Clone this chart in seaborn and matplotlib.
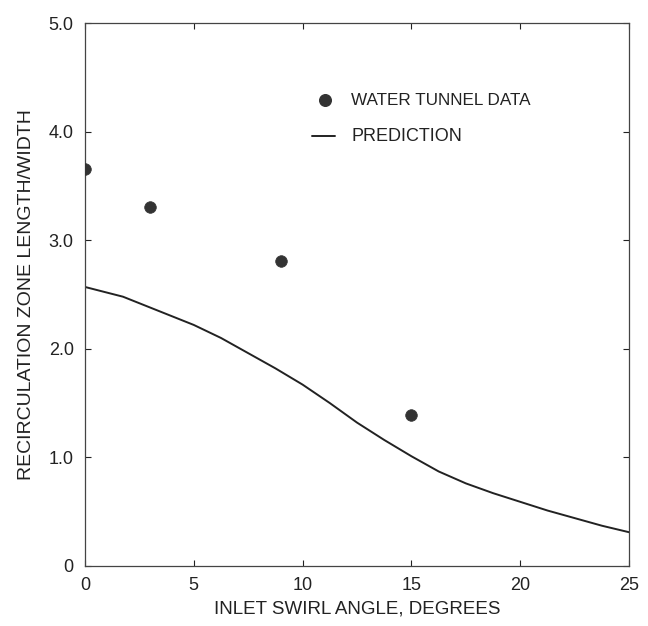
import matplotlib
matplotlib.use("Agg")
import matplotlib.pyplot as plt
import seaborn as sns
import numpy as np
import pandas as pd

sns.set_style("ticks")
plt.rcParams['font.family'] = ['Liberation Sans', 'DejaVu Sans']

# Data
tunnel_angle = [0, 3, 9, 15]
tunnel_ratio = [3.66, 3.31, 2.81, 1.39]

pred_angle = [0, 1.75, 3.5, 5, 6.25, 7.5, 8.75, 10, 11.25, 12.5, 13.75, 15,
              16.25, 17.5, 18.75, 20, 21.25, 22.5, 23.75, 25]
pred_ratio = [2.57, 2.48, 2.34, 2.22, 2.10, 1.96, 1.82, 1.67, 1.50, 1.32, 1.16, 1.01,
              0.87, 0.76, 0.67, 0.59, 0.51, 0.44, 0.37, 0.31]

x_ticks = [0, 5, 10, 15, 20, 25]
y_ticks = [0, 1, 2, 3, 4, 5]
y_ticklabels = ['0', '1.0', '2.0', '3.0', '4.0', '5.0']

df_pts = pd.DataFrame({'angle': tunnel_angle, 'ratio': tunnel_ratio})
df_pred = pd.DataFrame({'angle': pred_angle, 'ratio': pred_ratio})

fig = plt.figure(figsize=(6.48, 6.26), dpi=100)
ax = fig.add_axes([0.131, 0.096, 0.84, 0.867])

ink = '#222222'
sns.lineplot(x='angle', y='ratio', data=df_pred, ax=ax, color=ink, linewidth=1.4)
sns.scatterplot(x='angle', y='ratio', data=df_pts, ax=ax, color='#333333',
                s=70, edgecolor='#333333', linewidth=0.5, zorder=3)

ax.set_xlim(0, 25)
ax.set_ylim(0, 5)
ax.set_xticks(x_ticks)
ax.set_yticks(y_ticks)
ax.set_yticklabels(y_ticklabels)
ax.tick_params(direction='in', length=4, width=0.8, colors=ink, labelsize=13,
               top=True, right=True, pad=8)
for s in ax.spines.values():
    s.set_visible(True)
    s.set_linewidth(0.9)
    s.set_color('#444444')

ax.set_xlabel('INLET SWIRL ANGLE, DEGREES', fontsize=13.5, color=ink, labelpad=5)
ax.set_ylabel('RECIRCULATION ZONE LENGTH/WIDTH', fontsize=14, color=ink, labelpad=10)

# Legend drawn in axes coordinates
ax.scatter([0.441], [0.858], transform=ax.transAxes, s=70, color='#333333', zorder=3)
ax.text(0.489, 0.858, 'WATER TUNNEL DATA', transform=ax.transAxes,
        fontsize=12.3, color=ink, va='center', ha='left')
ax.plot([0.417, 0.460], [0.792, 0.792], transform=ax.transAxes, color=ink, linewidth=1.4)
ax.text(0.489, 0.792, 'PREDICTION', transform=ax.transAxes,
        fontsize=13, color=ink, va='center', ha='left')

plt.savefig('out.png', dpi=100)
